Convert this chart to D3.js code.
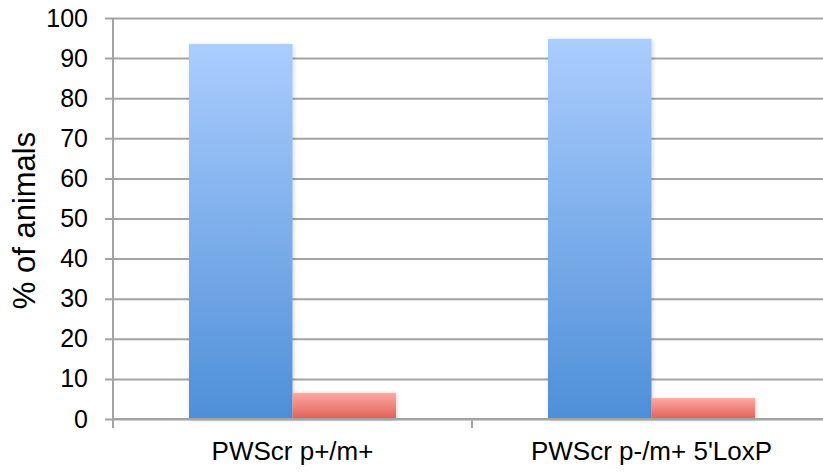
<!DOCTYPE html>
<html>
<head>
<meta charset="utf-8">
<script src="https://cdn.jsdelivr.net/npm/d3@7"></script>
<style>
  html, body { margin: 0; padding: 0; background: #fff; }
  svg { display: block; font-family: "Liberation Sans", Arial, Helvetica, sans-serif; }
</style>
</head>
<body>
<svg id="chart" width="823" height="472"></svg>
<script>
// Genotype groups along the x axis
const categories = ["PWScr p+/m+", "PWScr p-/m+ 5'LoxP"];
// Two outcome series per genotype (percent of animals)
const seriesNames = ["blue", "red"];
const blueValues = [93.5, 94.8];
const redValues = [6.5, 5.2];
const yTicks = [0, 10, 20, 30, 40, 50, 60, 70, 80, 90, 100];
const yTitle = "% of animals";

const svg = d3.select("#chart");
const plotLeft = 113, plotRight = 831, plotTop = 18, plotBottom = 419;

const x0 = d3.scaleBand().domain(categories).range([plotLeft, plotRight]).padding(0);
const x1 = d3.scaleBand().domain(seriesNames).range([0, x0.bandwidth()])
  .paddingInner(0).paddingOuter(0.734);
const y = d3.scaleLinear().domain([0, 100]).range([plotBottom, plotTop]);

const defs = svg.append("defs");
const grads = {
  blue: ["#abcdfe", "#4e8fd8"],
  red: ["#fea9a4", "#de6156"]
};
Object.entries(grads).forEach(([k, [c0, c1]]) => {
  const g = defs.append("linearGradient").attr("id", "g-" + k)
    .attr("x1", 0).attr("y1", 0).attr("x2", 0).attr("y2", 1);
  g.append("stop").attr("offset", "0%").attr("stop-color", c0);
  g.append("stop").attr("offset", "100%").attr("stop-color", c1);
});
const f = defs.append("filter").attr("id", "shadow")
  .attr("x", "-10%").attr("y", "-10%").attr("width", "120%").attr("height", "120%");
f.append("feDropShadow").attr("dx", 1).attr("dy", 1).attr("stdDeviation", 2)
  .attr("flood-color", "#000").attr("flood-opacity", 0.18);

// Horizontal gridlines with tick marks on the left
const yAxis = d3.axisLeft(y).tickValues(yTicks).tickSize(-(plotRight - plotLeft)).tickSizeOuter(0);
const gy = svg.append("g").attr("transform", `translate(${plotLeft},0)`).call(yAxis);
gy.select(".domain").remove();
gy.selectAll(".tick line").attr("x1", -8).attr("stroke", "#a3a3a3").attr("stroke-width", 2);
gy.selectAll(".tick text").attr("font-size", 25).attr("fill", "#000").attr("x", -25);

// Bars
const data = categories.map((c, i) => ({ c, vals: [["blue", blueValues[i]], ["red", redValues[i]]] }));
const groups = svg.append("g").selectAll("g").data(data).join("g")
  .attr("transform", d => `translate(${x0(d.c)},0)`);
groups.selectAll("rect").data(d => d.vals).join("rect")
  .attr("x", d => x1(d[0]))
  .attr("width", x1.bandwidth())
  .attr("y", d => y(d[1]))
  .attr("height", d => y(0) - y(d[1]))
  .attr("fill", d => `url(#g-${d[0]})`)
  .attr("filter", "url(#shadow)");

// Left axis line and bottom category axis
svg.append("line").attr("x1", plotLeft).attr("x2", plotLeft).attr("y1", plotTop).attr("y2", plotBottom + 9)
  .attr("stroke", "#a3a3a3").attr("stroke-width", 2);
const xAxis = d3.axisBottom(x0).tickSize(0).tickPadding(0);
const gx = svg.append("g").attr("transform", `translate(0,${plotBottom})`).call(xAxis);
gx.select(".domain").remove();
gx.selectAll(".tick text").attr("font-size", 26).attr("fill", "#000").attr("dy", 0).attr("y", 41);
svg.append("line").attr("x1", plotLeft).attr("x2", plotRight).attr("y1", plotBottom).attr("y2", plotBottom)
  .attr("stroke", "#a3a3a3").attr("stroke-width", 2);
// Category separators
const seps = [plotLeft + x0.step()];
svg.append("g").selectAll("line").data(seps).join("line")
  .attr("x1", d => d).attr("x2", d => d).attr("y1", plotBottom).attr("y2", plotBottom + 9)
  .attr("stroke", "#a3a3a3").attr("stroke-width", 2);

// Y axis title
svg.append("text").attr("transform", `translate(35,${(plotTop + plotBottom) / 2 + 2}) rotate(-90)`)
  .attr("text-anchor", "middle").attr("font-size", 31).attr("fill", "#000").text(yTitle);
</script>
</body>
</html>
